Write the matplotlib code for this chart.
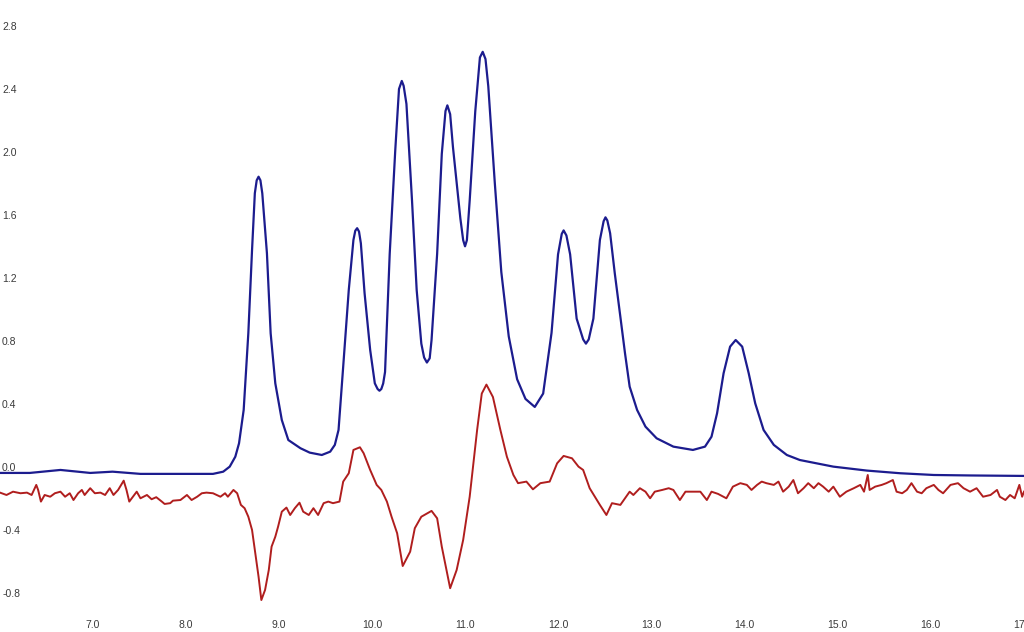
import matplotlib
matplotlib.use("Agg")
import matplotlib.pyplot as plt

# blue trace (signal)
blue_x = [6.00, 6.32, 6.65, 6.97, 7.21, 7.51, 7.94, 8.29, 8.40, 8.47, 8.53, 8.57,
          8.62, 8.67, 8.71, 8.74, 8.76, 8.78, 8.80, 8.82, 8.87, 8.91, 8.96, 9.03,
          9.10, 9.23, 9.33, 9.46, 9.55, 9.60, 9.64, 9.69, 9.75, 9.80, 9.82, 9.84,
          9.86, 9.88, 9.92, 9.98, 10.03, 10.06, 10.08, 10.10, 10.12, 10.14, 10.19,
          10.25, 10.29, 10.32, 10.34, 10.37, 10.43, 10.48, 10.53, 10.56, 10.59,
          10.62, 10.64, 10.70, 10.75, 10.79, 10.81, 10.84, 10.87, 10.95, 10.98,
          11.00, 11.02, 11.05, 11.11, 11.16, 11.19, 11.22, 11.25, 11.32, 11.39,
          11.47, 11.56, 11.65, 11.75, 11.84, 11.93, 12.00, 12.04, 12.06, 12.09,
          12.13, 12.20, 12.27, 12.30, 12.33, 12.38, 12.45, 12.49, 12.51, 12.53,
          12.56, 12.61, 12.67, 12.72, 12.77, 12.85, 12.94, 13.06, 13.24, 13.45,
          13.58, 13.65, 13.71, 13.78, 13.85, 13.91, 13.98, 14.05, 14.12, 14.21,
          14.32, 14.46, 14.60, 14.96, 15.32, 15.68, 16.04, 16.43, 17.01]
blue_y = [-0.038, -0.038, -0.019, -0.038, -0.030, -0.044, -0.044, -0.044, -0.030,
          0.002, 0.065, 0.150, 0.362, 0.849, 1.378, 1.738, 1.820, 1.843, 1.820,
          1.738, 1.357, 0.849, 0.531, 0.298, 0.171, 0.119, 0.091, 0.076, 0.097,
          0.140, 0.235, 0.637, 1.124, 1.441, 1.500, 1.516, 1.495, 1.420, 1.103,
          0.743, 0.531, 0.495, 0.484, 0.495, 0.530, 0.603, 1.352, 2.013, 2.400,
          2.451, 2.420, 2.305, 1.691, 1.124, 0.783, 0.695, 0.663, 0.690, 0.806,
          1.352, 1.987, 2.260, 2.296, 2.240, 2.032, 1.577, 1.440, 1.401, 1.440,
          1.691, 2.258, 2.600, 2.636, 2.590, 2.417, 1.804, 1.238, 0.829, 0.557,
          0.432, 0.381, 0.466, 0.851, 1.350, 1.480, 1.502, 1.470, 1.350, 0.942,
          0.810, 0.783, 0.810, 0.942, 1.441, 1.560, 1.585, 1.565, 1.484, 1.230,
          0.954, 0.722, 0.510, 0.362, 0.256, 0.182, 0.129, 0.108, 0.129, 0.192,
          0.341, 0.595, 0.764, 0.806, 0.764, 0.595, 0.404, 0.235, 0.140, 0.076,
          0.044, 0.002, -0.023, -0.040, -0.051, -0.054, -0.057]

# red trace (derivative / difference)
red_x = [6.00, 6.07, 6.14, 6.22, 6.29, 6.34, 6.39, 6.41, 6.44, 6.48, 6.54, 6.59,
         6.65, 6.70, 6.75, 6.79, 6.84, 6.88, 6.91, 6.97, 7.02, 7.08, 7.13, 7.18,
         7.22, 7.27, 7.33, 7.36, 7.39, 7.43, 7.47, 7.51, 7.58, 7.63, 7.68, 7.74,
         7.77, 7.83, 7.86, 7.94, 8.01, 8.06, 8.12, 8.17, 8.22, 8.29, 8.37, 8.42,
         8.45, 8.51, 8.55, 8.59, 8.63, 8.67, 8.71, 8.74, 8.78, 8.81, 8.85, 8.89,
         8.92, 8.96, 8.99, 9.03, 9.08, 9.12, 9.17, 9.22, 9.26, 9.32, 9.37, 9.42,
         9.48, 9.53, 9.58, 9.65, 9.69, 9.75, 9.80, 9.87, 9.91, 9.98, 10.05, 10.10,
         10.16, 10.21, 10.27, 10.33, 10.41, 10.46, 10.53, 10.64, 10.70, 10.75,
         10.84, 10.91, 10.98, 11.05, 11.13, 11.18, 11.23, 11.30, 11.38, 11.45,
         11.52, 11.57, 11.66, 11.73, 11.81, 11.91, 11.99, 12.06, 12.15, 12.22,
         12.27, 12.34, 12.45, 12.52, 12.58, 12.67, 12.72, 12.77, 12.81, 12.88,
         12.94, 12.99, 13.04, 13.12, 13.19, 13.24, 13.31, 13.37, 13.44, 13.53,
         13.60, 13.65, 13.72, 13.81, 13.88, 13.96, 14.03, 14.08, 14.14, 14.19,
         14.24, 14.32, 14.37, 14.42, 14.48, 14.53, 14.58, 14.64, 14.69, 14.75,
         14.80, 14.85, 14.91, 14.96, 15.03, 15.10, 15.18, 15.25, 15.29, 15.33,
         15.35, 15.41, 15.48, 15.53, 15.60, 15.64, 15.70, 15.75, 15.80, 15.86,
         15.91, 15.96, 16.04, 16.09, 16.14, 16.22, 16.30, 16.36, 16.43, 16.50,
         16.57, 16.65, 16.72, 16.75, 16.81, 16.86, 16.91, 16.96, 16.99, 17.01]
red_y = [-0.163, -0.178, -0.157, -0.167, -0.163, -0.178, -0.114, -0.146, -0.220,
         -0.178, -0.189, -0.167, -0.157, -0.189, -0.167, -0.210, -0.167, -0.146,
         -0.178, -0.135, -0.167, -0.163, -0.178, -0.135, -0.178, -0.146, -0.087,
         -0.146, -0.220, -0.189, -0.157, -0.199, -0.178, -0.205, -0.192, -0.220,
         -0.235, -0.230, -0.214, -0.210, -0.178, -0.210, -0.189, -0.167, -0.163,
         -0.167, -0.189, -0.167, -0.189, -0.146, -0.167, -0.241, -0.262, -0.316,
         -0.400, -0.527, -0.697, -0.845, -0.781, -0.654, -0.506, -0.443, -0.379,
         -0.284, -0.258, -0.305, -0.262, -0.227, -0.284, -0.305, -0.262, -0.305,
         -0.230, -0.220, -0.230, -0.220, -0.093, -0.040, 0.108, 0.125, 0.087,
         -0.019, -0.114, -0.146, -0.220, -0.316, -0.421, -0.629, -0.538, -0.389,
         -0.316, -0.279, -0.326, -0.506, -0.770, -0.654, -0.463, -0.189, 0.235,
         0.466, 0.523, 0.444, 0.235, 0.065, -0.051, -0.103, -0.093, -0.142,
         -0.103, -0.093, 0.023, 0.070, 0.055, 0.002, -0.019, -0.135, -0.241,
         -0.305, -0.230, -0.241, -0.199, -0.157, -0.178, -0.135, -0.157, -0.199,
         -0.157, -0.146, -0.135, -0.146, -0.210, -0.157, -0.157, -0.157, -0.210,
         -0.157, -0.171, -0.199, -0.125, -0.103, -0.114, -0.146, -0.114, -0.093,
         -0.103, -0.114, -0.093, -0.157, -0.125, -0.083, -0.167, -0.135, -0.103,
         -0.135, -0.103, -0.125, -0.157, -0.125, -0.189, -0.157, -0.135, -0.114,
         -0.157, -0.051, -0.146, -0.125, -0.114, -0.103, -0.083, -0.157, -0.167,
         -0.146, -0.103, -0.157, -0.167, -0.135, -0.114, -0.146, -0.167, -0.114,
         -0.103, -0.135, -0.157, -0.135, -0.189, -0.178, -0.146, -0.189, -0.210,
         -0.178, -0.199, -0.114, -0.189, -0.157]

x_ticks = [7.0, 8.0, 9.0, 10.0, 11.0, 12.0, 13.0, 14.0, 15.0, 16.0, 17.0]
y_ticks = [-0.8, -0.4, 0.0, 0.4, 0.8, 1.2, 1.6, 2.0, 2.4, 2.8]

plt.rcParams["font.family"] = ["Liberation Sans", "DejaVu Sans"]

fig = plt.figure(figsize=(10.24, 6.32), dpi=100)
ax = fig.add_axes([0, 0, 1, 1])

ax.plot(red_x, red_y, color="#b01e1e", lw=1.4, solid_joinstyle="round")
ax.plot(blue_x, blue_y, color="#1c1c8e", lw=1.6, solid_joinstyle="round")

ax.set_xlim(6.0, 17.01)
ax.set_ylim(-1.048, 2.965)

for s in ax.spines.values():
    s.set_visible(False)

ax.set_xticks(x_ticks)
ax.set_xticklabels([f"{v:.1f}" for v in x_ticks])
ax.set_yticks(y_ticks)
ax.set_yticklabels([f"{v:.1f}" for v in y_ticks])
ax.tick_params(axis="both", length=0, labelsize=7.5, labelcolor="#3a3a3a")
ax.tick_params(axis="x", pad=-4.7)
ax.tick_params(axis="y", pad=-1.5)
for lab in ax.get_xticklabels():
    lab.set_verticalalignment("center")
for lab in ax.get_yticklabels():
    lab.set_horizontalalignment("left")

fig.savefig("out.png", dpi=100)
